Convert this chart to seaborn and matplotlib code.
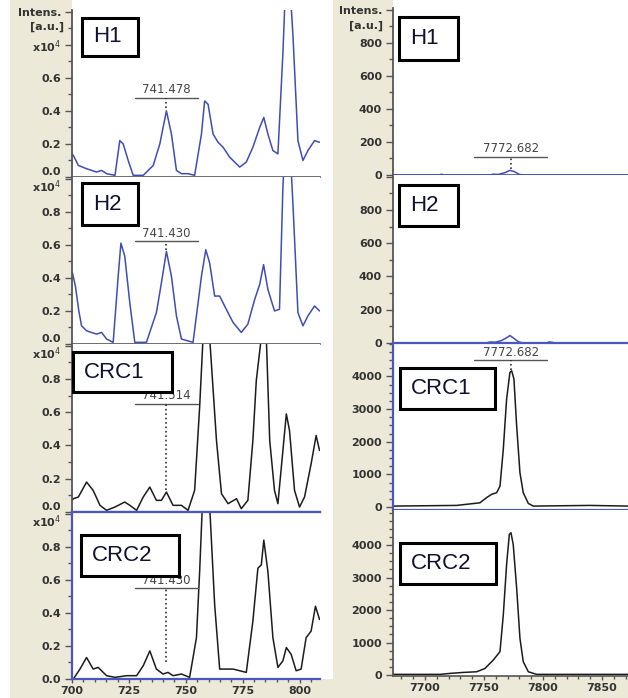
import matplotlib
matplotlib.use('Agg')
import matplotlib.pyplot as plt
import matplotlib.ticker as mticker
from matplotlib.patches import Rectangle
import seaborn as sns

sns.set_theme(style='white')
plt.rcParams['font.family'] = ['DejaVu Sans']

# ---- data: left column, m/z 700-810, intensity in x10^4 ----
h1_mz = [700.0, 700.6, 702.8, 706.4, 710.8, 713.0, 715.2, 718.9, 721.0, 722.5, 724.7, 726.9, 731.3,
         735.7, 738.6, 741.5, 743.7, 745.9, 748.1, 751.0, 753.9, 756.9, 758.3, 759.8, 762.0, 764.2,
         766.4, 769.3, 773.7, 776.6, 779.5, 782.5, 784.3, 786.1, 788.3, 790.5, 792.7, 794.4, 795.6,
         797.1, 799.3, 801.5, 803.7, 806.6, 808.8]
h1_int = [0.14, 0.13, 0.07, 0.05, 0.03, 0.04, 0.02, 0.01, 0.22, 0.20, 0.10, 0.01, 0.01,
          0.07, 0.20, 0.40, 0.26, 0.04, 0.02, 0.02, 0.01, 0.26, 0.46, 0.44, 0.26, 0.21,
          0.18, 0.12, 0.06, 0.09, 0.18, 0.30, 0.36, 0.26, 0.16, 0.14, 0.75, 1.35, 1.20,
          0.86, 0.22, 0.10, 0.16, 0.22, 0.21]

h2_mz = [700.2, 701.5, 703.0, 704.2, 706.4, 708.5, 710.8, 713.0, 715.2, 718.1, 720.3, 721.5, 723.2,
         725.4, 727.6, 732.7, 737.1, 739.3, 741.5, 743.7, 745.9, 748.1, 753.2, 756.9, 758.8, 760.5,
         762.7, 764.9, 767.8, 770.8, 774.4, 777.3, 780.3, 782.5, 784.2, 786.1, 789.0, 791.2, 792.7,
         794.4, 795.6, 797.1, 799.3, 801.5, 803.7, 806.6, 808.8]
h2_int = [0.43, 0.35, 0.20, 0.11, 0.08, 0.07, 0.06, 0.07, 0.03, 0.01, 0.41, 0.61, 0.53,
          0.25, 0.01, 0.01, 0.19, 0.37, 0.56, 0.41, 0.17, 0.03, 0.01, 0.41, 0.57, 0.49,
          0.29, 0.29, 0.21, 0.13, 0.07, 0.12, 0.27, 0.36, 0.48, 0.33, 0.20, 0.21, 0.95,
          1.40, 1.25, 0.85, 0.19, 0.11, 0.17, 0.23, 0.20]

crc1_mz = [700.0, 700.6, 702.8, 706.4, 709.3, 712.3, 715.2, 718.9, 723.2, 725.4, 728.4, 731.3, 734.2,
           737.1, 739.3, 741.5, 744.4, 748.1, 751.0, 753.9, 756.1, 757.6, 759.0, 760.5, 763.5, 765.7,
           768.6, 772.3, 774.4, 777.3, 779.5, 781.0, 783.2, 784.5, 785.4, 786.9, 789.0, 790.5, 792.7,
           794.2, 795.6, 797.8, 800.0, 802.2, 805.1, 807.3, 808.8]
crc1_int = [0.07, 0.08, 0.09, 0.18, 0.13, 0.04, 0.01, 0.03, 0.06, 0.04, 0.01, 0.09, 0.15,
            0.07, 0.07, 0.12, 0.04, 0.04, 0.01, 0.13, 0.63, 1.05, 1.50, 1.05, 0.43, 0.11,
            0.05, 0.08, 0.02, 0.07, 0.43, 0.79, 1.05, 1.30, 1.05, 0.43, 0.13, 0.05, 0.37,
            0.59, 0.49, 0.13, 0.03, 0.09, 0.29, 0.46, 0.37]

crc2_mz = [700.6, 703.5, 706.4, 709.3, 711.5, 715.2, 718.9, 724.0, 728.4, 731.3, 734.2, 737.1, 740.0,
           742.2, 744.4, 748.1, 751.7, 754.7, 756.1, 757.3, 758.8, 760.5, 762.7, 764.9, 770.8, 776.6,
           779.5, 781.7, 783.2, 784.3, 786.1, 788.3, 790.5, 792.7, 794.2, 796.3, 798.5, 800.7, 802.9,
           805.1, 807.0, 808.8]
crc2_int = [0.00, 0.06, 0.13, 0.06, 0.07, 0.02, 0.01, 0.02, 0.02, 0.08, 0.17, 0.06, 0.03,
            0.04, 0.02, 0.03, 0.01, 0.25, 0.65, 1.05, 1.50, 1.05, 0.45, 0.06, 0.06, 0.04,
            0.35, 0.67, 0.69, 0.84, 0.65, 0.25, 0.07, 0.11, 0.19, 0.15, 0.05, 0.06, 0.25,
            0.29, 0.44, 0.36]

# ---- data: right column, m/z 7673-7872, intensity in a.u. ----
rh1_mz = [7673, 7713, 7714, 7716, 7755, 7758, 7762, 7768, 7772, 7776, 7780, 7785, 7872]
rh1_int = [0, 0, 5, 0, 0, 5, 3, 15, 28, 20, 3, 0, 0]

rh2_mz = [7673, 7752, 7755, 7760, 7765, 7770, 7772, 7775, 7779, 7783, 7803, 7805, 7808, 7810, 7872]
rh2_int = [0, 0, 6, 5, 15, 35, 45, 30, 8, 0, 0, 6, 4, 0, 0]

rcrc1_mz = [7673.1, 7726.8, 7746.6, 7752.3, 7756.5, 7760.8, 7763.6, 7766.4, 7769.2, 7772.0, 7773.5,
            7775.4, 7777.7, 7780.5, 7783.3, 7787.6, 7791.8, 7839.8, 7872.0]
rcrc1_int = [30, 50, 130, 290, 390, 440, 640, 1770, 3300, 4120, 4170,
             3920, 2490, 1050, 440, 110, 30, 50, 30]

rcrc2_mz = [7673.1, 7712.7, 7721.2, 7732.5, 7743.8, 7750.8, 7757.9, 7763.6, 7766.4, 7769.2, 7771.5,
            7772.9, 7774.8, 7777.7, 7780.5, 7783.3, 7787.6, 7794.7, 7872.0]
rcrc2_int = [20, 20, 50, 80, 100, 200, 460, 720, 1850, 3400, 4330,
             4380, 4020, 2680, 1130, 410, 100, 20, 20]

sample_names = ['H1', 'H2', 'CRC1', 'CRC2']
left_peak_mz = [741.478, 741.430, 741.514, 741.430]
left_peak_top = [0.42, 0.57, 0.13, 0.10]
left_label_y = [0.48, 0.62, 0.65, 0.55]
right_peak_mz = [7772.682, None, 7772.682, None]
right_peak_top = [35, None, 4200, None]
right_label_y = [110, None, 4500, None]

W, H = 628, 698
BEIGE = '#ECE9D8'
BLUE = '#3F4DB5'
SEL = '#4A57C0'
DARK = '#1c1c1c'
AXC = '#555555'
TXT = '#333333'

fig = plt.figure(figsize=(W / 100, H / 100), dpi=100, facecolor='white')


def px_rect(x0, y0, x1, y1, **kw):
    r = Rectangle((x0 / W, 1 - y1 / H), (x1 - x0) / W, (y1 - y0) / H,
                  transform=fig.transFigure, **kw)
    fig.add_artist(r)
    return r


# beige strips behind the axis labels
px_rect(10, 0, 72, H, facecolor=BEIGE, edgecolor='none', zorder=-5)
px_rect(10, 679, 333, H, facecolor=BEIGE, edgecolor='none', zorder=-5)
px_rect(333, 0, 393, H, facecolor=BEIGE, edgecolor='none', zorder=-5)
px_rect(333, 676, W, H, facecolor=BEIGE, edgecolor='none', zorder=-5)


def add_ax(x0, x1, y0, y1):
    ax = fig.add_axes([x0 / W, 1 - y1 / H, (x1 - x0) / W, (y1 - y0) / H])
    ax.set_facecolor('white')
    for s in ['top', 'right']:
        ax.spines[s].set_visible(False)
    ax.spines['left'].set_color(AXC)
    ax.spines['bottom'].set_color(AXC)
    ax.spines['left'].set_linewidth(1.3)
    ax.spines['bottom'].set_linewidth(1.2)
    return ax


def style_xticks(ax, major, minor):
    ax.xaxis.set_major_locator(mticker.MultipleLocator(major))
    ax.xaxis.set_minor_locator(mticker.MultipleLocator(minor))
    ax.tick_params(axis='x', which='major', direction='out', length=3, width=1, color=AXC, pad=2, bottom=True)
    ax.tick_params(axis='x', which='minor', direction='out', length=2, width=1, color=AXC, bottom=True)
    for lab in ax.get_xticklabels():
        lab.set_fontsize(8)
        lab.set_fontweight('bold')
        lab.set_color(TXT)


left_rows = [(10, 177), (177, 344), (344, 512), (512, 679)]
right_rows = [(8, 175), (175, 343), (343, 510), (510, 676)]
left_data = [(h1_mz, h1_int, BLUE), (h2_mz, h2_int, BLUE), (crc1_mz, crc1_int, DARK), (crc2_mz, crc2_int, DARK)]
right_data = [(rh1_mz, rh1_int, BLUE), (rh2_mz, rh2_int, BLUE), (rcrc1_mz, rcrc1_int, DARK), (rcrc2_mz, rcrc2_int, DARK)]
right_ylims = [(0, 1010), (0, 1010), (-90, 5020), (-30, 5080)]

tick_font = dict(fontsize=8, fontweight='bold', color=TXT)

# ---- left column ----
for i, (y0, y1) in enumerate(left_rows):
    ax = add_ax(72, 320, y0, y1)
    mz, inten, col = left_data[i]
    sns.lineplot(x=mz, y=inten, ax=ax, color=col, lw=1.1, estimator=None)
    ax.set_xlim(700, 809)
    ax.set_ylim(0, 1.01)
    ax.yaxis.set_major_locator(mticker.FixedLocator([0, 0.2, 0.4, 0.6, 0.8, 1.0]))
    ax.yaxis.set_minor_locator(mticker.MultipleLocator(0.1))
    if i == 0:
        ylabs = ['0.0', '0.2', '0.4', '0.6', 'x10$^4$', 'Intens.']
        ax.text(-0.03, 0.905, '[a.u.]', transform=ax.get_yaxis_transform(),
                ha='right', va='center', **tick_font)
    else:
        ylabs = ['0.0', '0.2', '0.4', '0.6', '0.8', 'x10$^4$']
    ax.set_yticklabels(ylabs, **tick_font)
    labs = ax.get_yticklabels()
    if i < 3:
        labs[0].set_va('bottom')
    if i > 0:
        labs[-1].set_va('top')
    ax.tick_params(axis='y', which='major', direction='out', length=5, width=1, color=AXC, pad=3, left=True)
    ax.tick_params(axis='y', which='minor', direction='out', length=3, width=1, color=AXC, left=True)
    if i == 3:
        style_xticks(ax, 25, 5)
        for s in ['left', 'bottom', 'top']:
            ax.spines[s].set_visible(True)
            ax.spines[s].set_color(SEL)
            ax.spines[s].set_linewidth(1.6)
    else:
        ax.set_xticks([])
    if i == 2:
        ax.spines['bottom'].set_color(SEL)
        ax.spines['bottom'].set_linewidth(1.6)
    # peak label
    pm = left_peak_mz[i]
    ly = left_label_y[i]
    ax.plot([pm - 13.9, pm + 13.9], [ly, ly], color='#555555', lw=1.0)
    ax.plot([pm, pm], [left_peak_top[i], ly], color='#333333', lw=1.2, ls=':')
    ax.annotate(f'{pm:.3f}', (pm, ly), xytext=(0, 1), textcoords='offset points',
                ha='center', va='bottom', fontsize=8.5, color='#444444')

# ---- right column ----
for i, (y0, y1) in enumerate(right_rows):
    ax = add_ax(393, 628, y0, y1)
    mz, inten, col = right_data[i]
    sns.lineplot(x=mz, y=inten, ax=ax, color=col, lw=1.1, estimator=None)
    ax.set_xlim(7673, 7872)
    ax.set_ylim(*right_ylims[i])
    if i < 2:
        ax.yaxis.set_major_locator(mticker.FixedLocator([0, 200, 400, 600, 800, 1000]))
        ax.yaxis.set_minor_locator(mticker.MultipleLocator(100))
        if i == 0:
            ylabs = ['0', '200', '400', '600', '800', 'Intens.']
            ax.text(-0.04, 900, '[a.u.]', transform=ax.get_yaxis_transform(),
                    ha='right', va='center', **tick_font)
        else:
            ylabs = ['0', '200', '400', '600', '800', '']
        ax.set_yticklabels(ylabs, **tick_font)
    else:
        ax.yaxis.set_major_locator(mticker.FixedLocator([0, 1000, 2000, 3000, 4000]))
        ax.yaxis.set_minor_locator(mticker.MultipleLocator(250))
        ax.set_yticklabels(['0', '1000', '2000', '3000', '4000'], **tick_font)
    ax.tick_params(axis='y', which='major', direction='out', length=5, width=1, color=AXC, pad=3, left=True)
    ax.tick_params(axis='y', which='minor', direction='out', length=3, width=1, color=AXC, left=True)
    if i < 2:
        ax.spines['bottom'].set_color(BLUE)
    if i == 2:
        for s in ['left', 'bottom', 'top']:
            ax.spines[s].set_visible(True)
            ax.spines[s].set_color(SEL)
            ax.spines[s].set_linewidth(1.6)
    if i == 3:
        style_xticks(ax, 50, 10)
    else:
        ax.set_xticks([])
    if right_peak_mz[i] is not None:
        pm = right_peak_mz[i]
        ly = right_label_y[i]
        ax.plot([pm - 31, pm + 31], [ly, ly], color='#555555', lw=1.0)
        ax.plot([pm, pm], [right_peak_top[i], ly], color='#333333', lw=1.2, ls=':')
        ax.annotate(f'{pm:.3f}', (pm, ly), xytext=(0, 1), textcoords='offset points',
                    ha='center', va='bottom', fontsize=8.5, color='#444444')

# ---- sample name boxes ----
left_boxes = [(82, 18, 138, 56), (82, 183, 138, 225), (73, 352, 172, 392), (81, 535, 179, 576)]
right_boxes = [(399, 17, 458, 60), (399, 185, 458, 226), (400, 368, 495, 409), (400, 543, 496, 584)]
for boxes in (left_boxes, right_boxes):
    for name, (x0, y0, x1, y1) in zip(sample_names, boxes):
        px_rect(x0, y0, x1, y1, facecolor='white', edgecolor='black', lw=2.2, zorder=5)
        fig.text((x0 + 11) / W, 1 - (y0 + y1) / 2 / H, name, ha='left', va='center',
                 fontsize=16, family='Liberation Sans', color='#101030', zorder=6)

fig.savefig('out.png', dpi=100, facecolor=fig.get_facecolor())
